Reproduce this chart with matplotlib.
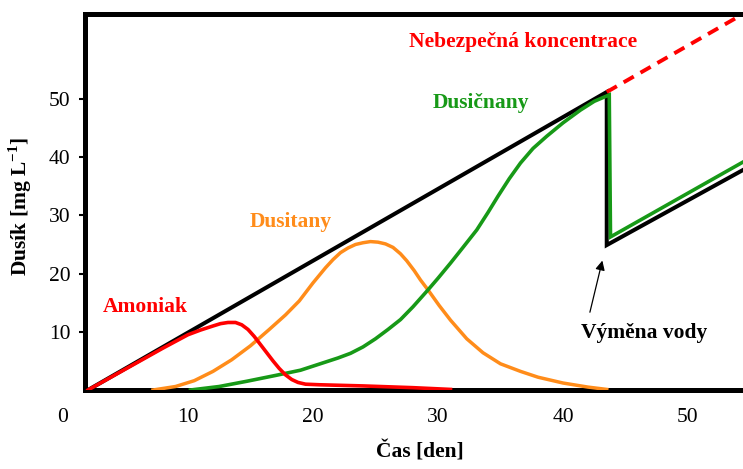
"""Dusíkový cyklus v akváriu: amoniak -> dusitany -> dusičnany, výměna vody."""

import matplotlib as mpl
import matplotlib.pyplot as plt
from matplotlib.transforms import blended_transform_factory

RED, ORANGE, GREEN, INK = "#ff0000", "#ff8c1a", "#179917", "#000000"

# total nitrogen (black) and the "no water change" continuation (dashed)
total_day = [2.0, 43.5, 43.5, 55.5]
total_val = [0.0, 51.2, 24.9, 39.1]
danger_day = [43.5, 54.4]
danger_val = [51.2, 64.6]

ammonia_day = [2.0, 4.0, 6.0, 8.0, 10.0, 11.0, 12.0, 12.6, 13.2, 13.8, 14.3,
               14.8, 15.3, 15.8, 16.3, 16.8, 17.3, 17.8, 18.3, 18.8, 19.4,
               20.5, 24.0, 28.0, 31.0]
ammonia_val = [0.0, 2.4, 4.8, 7.2, 9.5, 10.3, 11.0, 11.4, 11.6, 11.6, 11.2,
               10.4, 9.2, 7.8, 6.4, 5.0, 3.7, 2.6, 1.8, 1.3, 1.0,
               0.9, 0.7, 0.4, 0.1]

nitrite_day = [7.2, 9.0, 10.5, 12.0, 13.5, 15.0, 16.5, 17.8, 18.9, 20.0, 21.0,
               21.6, 22.2, 22.8, 23.4, 24.0, 24.6, 25.2, 25.8, 26.4, 27.0,
               27.5, 28.1, 28.6, 29.2, 30.1, 31.0, 32.3, 33.6, 35.0, 36.6,
               38.0, 40.0, 42.0, 43.5]
nitrite_val = [0.0, 0.6, 1.6, 3.2, 5.2, 7.6, 10.4, 12.9, 15.3, 18.4, 21.0,
               22.4, 23.6, 24.4, 25.0, 25.3, 25.5, 25.4, 25.1, 24.5, 23.4,
               22.2, 20.5, 18.9, 17.2, 14.5, 12.0, 8.8, 6.4, 4.5, 3.2,
               2.2, 1.2, 0.5, 0.1]

nitrate_day = [10.2, 12.5, 14.7, 17.0, 19.0, 21.0, 22.0, 23.0, 24.0, 25.0,
               26.0, 27.0, 28.0, 29.2, 30.0, 31.0, 32.0, 33.1, 34.0, 34.8,
               35.7, 36.6, 37.6, 38.7, 40.0, 41.4, 42.5, 43.7, 43.8, 55.5]
nitrate_val = [0.0, 0.6, 1.5, 2.5, 3.4, 4.8, 5.5, 6.3, 7.4, 8.8,
               10.4, 12.1, 14.3, 17.2, 19.2, 21.8, 24.5, 27.5, 30.5, 33.3,
               36.3, 39.0, 41.5, 43.6, 45.9, 48.1, 49.6, 50.7, 26.3, 40.5]

x_ticks = [0, 10, 20, 30, 40, 50]
y_ticks = [10, 20, 30, 40, 50]

mpl.rcParams.update({
    "font.family": "Liberation Serif",
    "mathtext.fontset": "custom",
    "mathtext.rm": "Liberation Serif",
    "mathtext.bf": "Liberation Serif:bold",
})

fig = plt.figure(figsize=(7.43, 4.69), dpi=100)
ax = fig.add_axes([85 / 743, 79 / 469, 658 / 743, 376 / 469])
ax.set_xlim(1.76, 54.4)
ax.set_ylim(0, 64.6)

for side in ("left", "bottom", "top"):
    ax.spines[side].set_linewidth(3.6)
    ax.spines[side].set_color(INK)
ax.spines["right"].set_visible(False)

ax.plot(total_day, total_val, color=INK, lw=2.9, solid_joinstyle="miter", zorder=2)
ax.plot(danger_day, danger_val, color=RED, lw=2.8, dashes=(3, 2), zorder=2)
ax.plot(nitrite_day, nitrite_val, color=ORANGE, lw=2.5, zorder=3)
ax.plot(nitrate_day, nitrate_val, color=GREEN, lw=2.6, solid_joinstyle="miter", zorder=4)
ax.plot(ammonia_day, ammonia_val, color=RED, lw=2.6, zorder=5)

ax.set_xticks([])
ax.set_yticks(y_ticks)
ax.set_yticklabels([str(v) for v in y_ticks])
ax.tick_params(axis="y", direction="out", length=4.5, width=1.5, pad=6, labelsize=15.5)

trans = blended_transform_factory(ax.transData, ax.transAxes)
for v in x_ticks:
    ax.text(v, -0.072, str(v), transform=trans, ha="center", va="center",
            fontsize=15.5, clip_on=False)

ax.text(0.509, -0.165, "Čas [den]", transform=ax.transAxes, ha="center",
        va="center", fontsize=15.5, fontweight="bold")
ax.text(-0.099, 0.487, r"Dusík [mg L$^{\mathbf{-1}}$]", transform=ax.transAxes,
        ha="center", va="center", rotation=90, fontsize=15.5, fontweight="bold")

label_kw = dict(ha="center", va="center", fontsize=15.5, fontweight="bold")
ax.text(6.56, 14.3, "Amoniak", color=RED, **label_kw)
ax.text(18.2, 28.9, "Dusitany", color=ORANGE, **label_kw)
ax.text(33.4, 49.3, "Dusičnany", color=GREEN, **label_kw)
ax.text(36.8, 59.8, "Nebezpečná koncentrace", color=RED, **label_kw)
ax.text(46.5, 9.8, "Výměna vody", color=INK, **label_kw)

ax.annotate("", xy=(43.2, 22.7), xytext=(42.1, 12.9),
            arrowprops=dict(arrowstyle="-|>", color=INK, lw=0.9, mutation_scale=14))

fig.savefig("out.png", dpi=100)
